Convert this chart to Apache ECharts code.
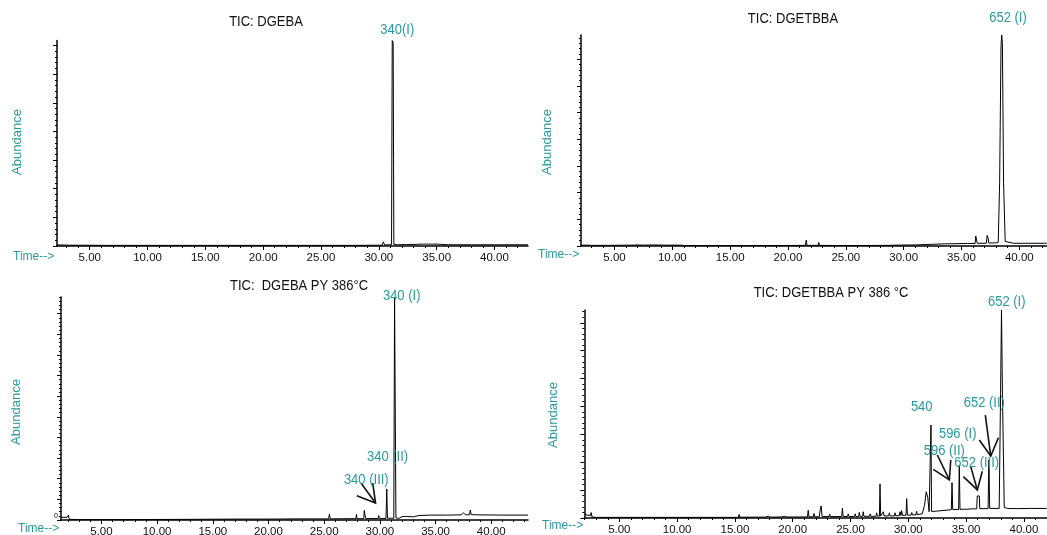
<!DOCTYPE html>
<html><head><meta charset="utf-8">
<script src="https://cdn.jsdelivr.net/npm/echarts@6/dist/echarts.min.js"></script>
<style>html,body{margin:0;padding:0;background:#fff}#c{width:1047px;height:535px}</style>
</head><body><div id="c"></div>
<script>
// ---------- data ----------
const xTickLabels = [5, 10, 15, 20, 25, 30, 35, 40];
const panelTitles = ['TIC: DGEBA', 'TIC: DGETBBA', 'TIC:  DGEBA PY 386°C', 'TIC: DGETBBA PY 386 °C'];
const timeRanges = [[2.17, 42.9], [2.1, 42.37], [1.37, 43.3], [1.97, 41.97]];
const yTickSteps = [13.94, 12.64, 9.25, 13.41];
const yTickCounts = [7, 7, 10, 7];

const dgebaTrace = [
 [2.17,0.5],[2.5,0.5],[2.55,0.9],[2.6,0.4],[3.2,0.4],[3.25,0.7],[3.3,0.3],[6.9,0.3],[6.98,1.2],[7.06,0.3],
 [9,0.3],[14,0.3],[20,0.3],[26,0.3],[28.2,0.3],[28.25,0.6],[28.3,0.3],[30.3,0.4],[30.38,2.0],[30.45,2.3],
 [30.52,0.5],[30.8,0.6],[31.1,0.6],[31.16,100],[31.24,99],[31.3,0.8],[31.6,0.6],[32.4,0.7],[32.45,1.0],[32.5,0.7],
 [33.3,0.8],[33.4,1.2],[33.55,0.9],[33.7,1.2],[33.85,0.9],[34.0,1.3],[34.15,0.9],[34.3,1.2],[34.45,0.9],[34.6,1.2],
 [34.75,0.9],[34.9,1.1],[35.1,0.9],[35.3,0.8],[36,0.6],[38,0.6],[40,0.6],[42.9,0.6]
];
const dgetbbaTrace = [
 [2.1,0.4],[2.6,0.4],[2.68,0.9],[2.75,0.3],[3.0,0.3],[4.5,0.3],[6.5,0.4],[6.95,0.5],[7.0,1.3],[7.06,0.4],
 [7.5,0.4],[8.2,0.5],[9.5,0.4],[10.8,0.4],[11,0.2],[15,0.2],[18,0.2],[21.5,0.3],[21.58,2.8],[21.65,0.3],
 [22.0,0.3],[22.6,0.3],[22.66,1.7],[22.72,0.3],[25,0.2],[28.8,0.3],[29.2,0.4],[31,0.5],[32.5,0.8],[33.5,1.0],
 [35.5,1.2],[36.18,1.2],[36.24,4.7],[36.3,4.4],[36.36,1.3],[37.15,1.3],[37.22,5.0],[37.3,3.8],[37.36,1.4],[38.0,1.5],
 [38.18,1.8],[38.3,30],[38.42,95],[38.48,100],[38.54,96],[38.64,30],[38.78,2.2],[38.9,1.5],[39.5,1.3],[40.5,1.3],[42.37,1.3]
];
const dgebaPyTrace = [
 [1.37,1.2],[1.9,1.2],[2.0,0.4],[2.04,2.2],[2.1,0.3],[3,0.2],[8,0.2],[13,0.3],[17,0.4],[20,0.4],
 [22.5,0.5],[22.55,1.0],[22.6,0.5],[25.4,0.5],[25.47,2.6],[25.54,0.5],[27.3,0.6],[27.35,0.7],[27.85,0.6],[27.9,2.5],
 [27.95,0.6],[28.55,0.6],[28.6,4.3],[28.68,4.3],[28.72,0.6],[29.4,0.7],[29.85,0.7],[29.9,2.0],[29.95,0.7],[30.55,0.7],
 [30.62,13.9],[30.68,0.8],[31.25,0.8],[31.32,100],[31.38,100],[31.44,1.0],[31.7,0.7],[32.0,1.5],[32.1,0.9],[32.4,1.6],
 [32.5,1.0],[33.0,1.4],[33.5,2.0],[34.5,2.2],[36,2.2],[37.3,2.3],[37.5,3.2],[37.7,2.3],[38.05,2.4],[38.12,4.5],
 [38.2,2.4],[39,2.3],[41,2.2],[43.3,2.2]
];
const dgetbbaPyTrace = [
 [1.97,1.8],[2.2,1.4],[2.5,1.2],[2.56,2.6],[2.64,0.5],[3.0,0.3],[8,0.3],[15.3,0.3],[15.36,1.7],[15.42,0.4],
 [17.6,0.4],[17.9,0.8],[18.1,0.4],[19.0,0.5],[19.3,0.8],[19.5,0.5],[20.0,0.5],[20.05,1.2],[20.12,0.5],[21.28,0.5],
 [21.34,3.7],[21.4,0.6],[21.78,0.6],[21.84,2.2],[21.9,0.6],[22.3,0.6],[22.38,4.0],[22.46,5.8],[22.54,0.7],[23.15,0.7],
 [23.2,1.9],[23.25,0.7],[23.74,0.7],[23.8,1.6],[23.86,0.7],[24.24,0.7],[24.3,4.7],[24.36,0.7],[24.75,0.7],[24.8,2.0],
 [24.86,0.7],[25.35,0.7],[25.4,2.0],[25.46,0.7],[25.7,0.7],[25.76,2.7],[25.82,0.8],[26.05,0.8],[26.1,3.0],[26.16,0.8],
 [26.64,0.8],[26.7,2.0],[26.76,0.8],[27.2,0.8],[27.26,2.5],[27.32,0.9],[27.5,0.9],[27.55,16.4],[27.61,0.9],[27.78,0.9],
 [27.84,3.0],[27.9,1.0],[28.3,1.0],[28.36,2.5],[28.42,1.0],[28.8,1.0],[28.85,2.5],[28.9,1.1],[29.22,1.1],[29.28,3.0],
 [29.36,1.2],[29.42,3.5],[29.5,1.3],[29.8,1.3],[29.86,9.3],[29.92,1.4],[30.24,1.4],[30.3,2.6],[30.36,1.5],[30.66,1.5],
 [30.72,3.2],[30.78,1.6],[31.2,2.0],[31.4,6.0],[31.55,12.6],[31.68,10.0],[31.8,3.0],[31.91,3.0],[31.96,44.7],[32.01,3.2],
 [32.24,3.2],[32.3,3.8],[32.36,3.2],[32.45,3.3],[32.5,4.0],[32.56,3.4],[33.0,3.6],[33.72,4.0],[33.78,17.0],[33.84,4.1],
 [34.35,4.1],[34.41,25.5],[34.47,4.2],[35.0,4.2],[35.5,4.4],[35.92,4.4],[35.96,10.6],[36.14,10.6],[36.18,4.5],[36.9,4.5],
 [36.97,28.0],[37.04,4.6],[37.86,4.6],[37.98,60],[38.06,100],[38.14,60],[38.3,5.0],[38.6,4.6],[39.5,4.5],[40.5,4.6],[41.97,4.6]
];

// peak annotations: [text, time, abundance]
const dgebaPeakLabels = [['340(I)', 31.6, 104.9]];
const dgetbbaPeakLabels = [['652 (I)', 39.02, 108.1]];
const dgebaPyPeakLabels = [['340 (I)', 31.96, 100.4], ['340 (II)', 30.69, 28.3], ['340 (III)', 28.78, 18.1]];
const dgetbbaPyPeakLabels = [['652 (I)', 38.51, 104], ['540', 31.16, 53.5], ['652 (II)', 36.57, 55.4],
  ['596 (I)', 34.27, 40.2], ['596 (II)', 33.11, 32.4], ['652 (III)', 35.92, 26.6]];

// arrow strokes: polylines in [time, abundance]
const dgebaPyArrows = [
  [[28.32,16.5],[29.61,7.6]], [[27.93,10.9],[29.61,7.6],[29.36,16.5]]
];
const dgetbbaPyArrows = [
  [[32.51,30.3],[33.55,18.3]], [[32.16,23.4],[33.55,18.3],[33.67,27.9]],
  [[35.4,24.7],[35.97,13.5]], [[34.76,19.9],[35.97,13.5],[36.4,22.5]],
  [[36.66,49.5],[37.13,29.8]], [[36.14,37.5],[37.13,29.8],[37.79,38.6]]
];

// ---------- layout / style ----------
const FONT = "'Liberation Sans', Arial, sans-serif";
const TEAL = '#2a9a9a';
const TEXT_STRETCH = 1.12;
const traces = [dgebaTrace, dgetbbaTrace, dgebaPyTrace, dgetbbaPyTrace];
const peakLabels = [dgebaPeakLabels, dgetbbaPeakLabels, dgebaPyPeakLabels, dgetbbaPyPeakLabels];
const arrowsAll = [[], [], dgebaPyArrows, dgetbbaPyArrows];
const gridBoxes = [
  {left: 57, top: 40.5, width: 471, height: 205.5},
  {left: 581, top: 35, width: 465.7, height: 211},
  {left: 61, top: 297, width: 467, height: 223},
  {left: 584.3, top: 310, width: 462.4, height: 208}
];
const titlePos = [[266, 22], [793, 19], [299, 286], [831, 293]];
const abundPos = [[17, 142], [547, 142], [16, 412], [553, 415]];
const timePos = [[13, 256], [538, 254], [18, 528], [542, 525]];

const option = {animation: false, backgroundColor: '#fff', grid: [], xAxis: [], yAxis: [], series: [], graphic: []};

for (let i = 0; i < 4; i++) {
  const [tmin, tmax] = timeRanges[i];
  option.grid.push(Object.assign({containLabel: false, outerBoundsMode: 'none'}, gridBoxes[i]));
  const minorX = [];
  for (let t = Math.ceil(tmin); t <= Math.floor(tmax); t++) minorX.push(t);
  const majorY = [], minorY = [];
  for (let k = 0; k <= yTickCounts[i]; k++) majorY.push(+(k * yTickSteps[i]).toFixed(3));
  for (let k = 0; k * yTickSteps[i] / 5 <= 100; k++) minorY.push(+(k * yTickSteps[i] / 5).toFixed(3));

  option.xAxis.push({
    type: 'value', gridIndex: i, min: tmin, max: tmax, position: 'bottom',
    axisLine: {show: true, onZero: false, lineStyle: {color: '#000', width: 1.5}},
    axisTick: {show: true, customValues: xTickLabels, length: 4, lineStyle: {color: '#000', width: 1}},
    axisLabel: {show: true, customValues: xTickLabels, formatter: v => Number(v).toFixed(2),
      fontSize: 11.5, fontFamily: FONT, color: '#111', margin: 6},
    splitLine: {show: false}
  });
  option.xAxis.push({
    type: 'value', gridIndex: i, min: tmin, max: tmax, position: 'bottom',
    axisLine: {show: false, onZero: false},
    axisTick: {show: true, customValues: minorX, length: 2, lineStyle: {color: '#000', width: 1}},
    axisLabel: {show: false}, splitLine: {show: false}
  });
  option.yAxis.push({
    type: 'value', gridIndex: i, min: 0, max: 100, position: 'left',
    axisLine: {show: true, onZero: false, lineStyle: {color: '#000', width: 1.5}},
    axisTick: {show: true, customValues: majorY, length: 4, lineStyle: {color: '#000', width: 1}},
    axisLabel: i === 2 ? {show: true, customValues: [0], fontSize: 7, fontFamily: FONT, color: '#000', margin: 3,
      verticalAlign: 'bottom'} : {show: false},
    splitLine: {show: false}
  });
  option.yAxis.push({
    type: 'value', gridIndex: i, min: 0, max: 100, position: 'left',
    axisLine: {show: false, onZero: false},
    axisTick: {show: true, customValues: minorY, length: 2, lineStyle: {color: '#000', width: 1}},
    axisLabel: {show: false}, splitLine: {show: false}
  });

  option.series.push({
    type: 'line', xAxisIndex: 2 * i, yAxisIndex: 2 * i, data: traces[i],
    showSymbol: false, symbol: 'none', lineStyle: {color: '#000', width: 1}, z: 3, silent: true
  });
  if (arrowsAll[i].length) {
    option.series.push({
      type: 'lines', coordinateSystem: 'cartesian2d', xAxisIndex: 2 * i, yAxisIndex: 2 * i,
      polyline: true, silent: true, z: 4,
      lineStyle: {color: '#111', width: 1.6, opacity: 1},
      data: arrowsAll[i].map(c => ({coords: c}))
    });
  }

  option.graphic.push({type: 'text', x: titlePos[i][0], y: titlePos[i][1], z: 10, scaleY: TEXT_STRETCH,
    style: {text: panelTitles[i], font: '13px ' + FONT, fill: '#111', align: 'center', verticalAlign: 'middle'}});
  option.graphic.push({type: 'text', x: abundPos[i][0], y: abundPos[i][1], rotation: Math.PI / 2, z: 10,
    style: {text: 'Abundance', font: '13px ' + FONT, fill: TEAL, align: 'center', verticalAlign: 'middle'}});
  option.graphic.push({type: 'text', x: timePos[i][0], y: timePos[i][1], z: 10, scaleY: TEXT_STRETCH,
    style: {text: 'Time-->', font: '12px ' + FONT, fill: TEAL, align: 'left', verticalAlign: 'middle'}});
}

const chart = echarts.init(document.getElementById('c'), null, {renderer: 'canvas'});
chart.setOption(option);

const extra = [];
for (let i = 0; i < 4; i++) {
  peakLabels[i].forEach(([txt, t, a]) => {
    const p = chart.convertToPixel({xAxisIndex: 2 * i, yAxisIndex: 2 * i}, [t, a]);
    extra.push({type: 'text', x: p[0], y: p[1], z: 10, scaleY: TEXT_STRETCH,
      style: {text: txt, font: '13px ' + FONT, fill: TEAL, align: 'center', verticalAlign: 'middle'}});
  });
}
chart.setOption({graphic: option.graphic.concat(extra)});
</script>
</body></html>
